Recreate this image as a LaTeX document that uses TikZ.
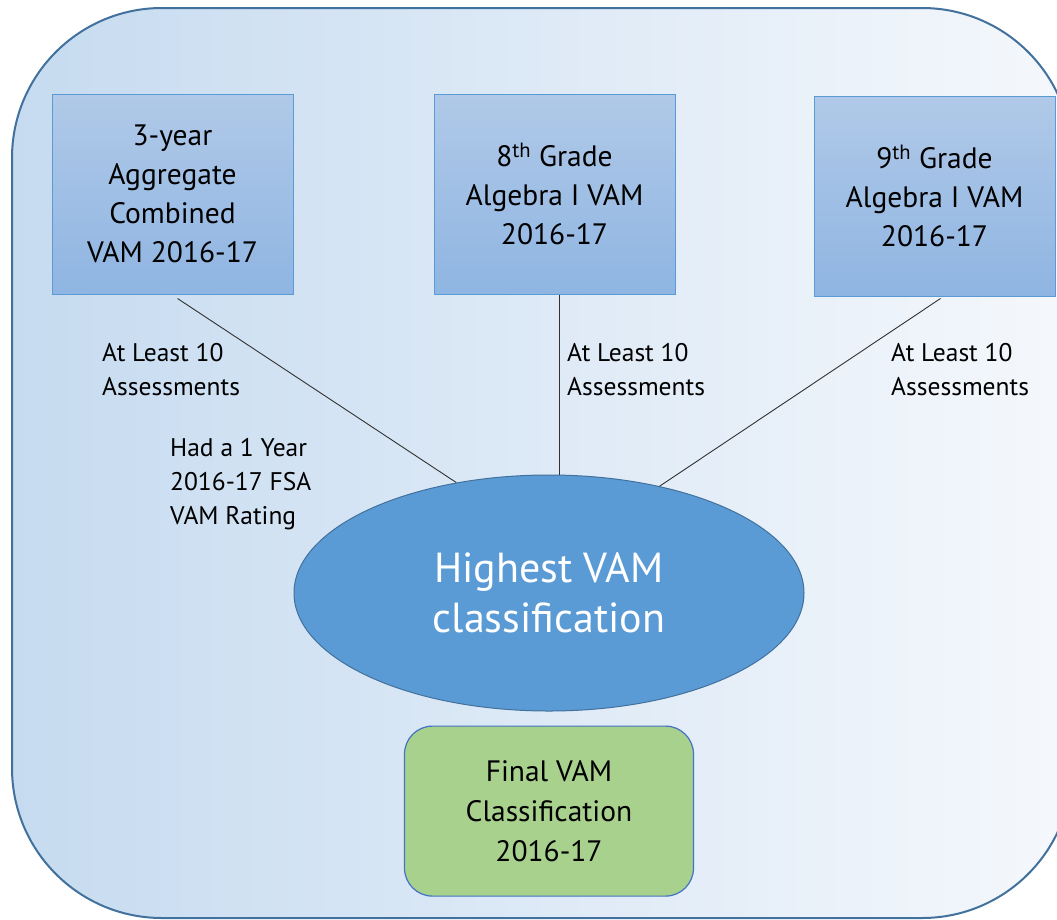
\documentclass[tikz,border=0pt]{standalone}
\usepackage{fontspec}
\setmainfont{PT Sans}
\usetikzlibrary{positioning,shapes.geometric}

\definecolor{frameline}{RGB}{65,113,156}
\definecolor{bgleft}{RGB}{198,219,240}
\definecolor{bgmid}{RGB}{180,208,234}
\definecolor{bgright}{RGB}{245,248,252}
\definecolor{boxtop}{RGB}{176,201,232}
\definecolor{boxbot}{RGB}{143,181,226}
\definecolor{boxline}{RGB}{91,155,213}
\definecolor{ovalfill}{RGB}{91,155,213}
\definecolor{greenfill}{RGB}{169,209,142}
\definecolor{greenline}{RGB}{68,114,196}
\definecolor{linkgray}{RGB}{50,50,50}

\begin{document}
\begin{tikzpicture}[
    x=1pt, y=-1pt,
    node distance=14pt and 140pt,
    vambox/.style={rectangle, draw=boxline, line width=1pt, top color=boxtop, bottom color=boxbot, minimum width=241pt, minimum height=200pt, inner sep=0pt, align=center, font=\fontsize{29.5}{39}\selectfont},
    link/.style={draw=linkgray, line width=0.9pt},
    label/.style={anchor=base west, inner sep=0pt, align=left, font=\fontsize{25.5}{34}\selectfont}
]
\useasboundingbox (0,0) rectangle (1057,919);

% Background panel
\draw[rounded corners=150pt, line width=2pt, draw=frameline, left color=bgleft, middle color=bgmid, right color=bgright] (12,8) rectangle (1072,918);

% Source VAM boxes
\node[vambox, text depth=0pt] (agg) at (172.5,194) {3-year\\Aggregate\\Combined\\VAM 2016-17};
\node[vambox, right=of agg] (eighth) {8\textsuperscript{th} Grade\\Algebra I VAM\\2016-17};
\node[vambox, right=138pt of eighth, yshift=-2pt, text depth=0pt] (ninth) {9\textsuperscript{th} Grade\\Algebra I VAM\\2016-17};

% Classification
\node[ellipse, draw=frameline, line width=1pt, fill=ovalfill, minimum width=510pt, minimum height=236pt, inner sep=0pt, align=center, text=white, font=\fontsize{42}{50}\selectfont] (high) at (549,593) {Highest VAM\\classification};
\node[rectangle, rounded corners=28pt, draw=greenline, line width=1.2pt, fill=greenfill, minimum width=289pt, minimum height=170pt, inner sep=0pt, align=center, font=\fontsize{29.5}{40}\selectfont, below=of high] (final) {Final VAM\\Classification\\2016-17};

% Links
\draw[link] ([xshift=5pt, yshift=-4pt]agg.south) -- (high.130);
\draw[link] ([xshift=5pt]eighth.south) -- ([xshift=5pt]eighth.south |- high.north);
\draw[link] ([xshift=6pt, yshift=-2pt]ninth.south) -- (high.44);

% Conditions
\node[label] (lblagg) at (102,395) {At Least 10\\Assessments};
\node[label] (lbleighth) at (567,395) {At Least 10\\Assessments};
\node[label] (lblninth) at (891,395) {At Least 10\\Assessments};
\node[label] (lblfsa) at (170,524) {Had a 1 Year\\2016-17 FSA\\VAM Rating};
\end{tikzpicture}
\end{document}
